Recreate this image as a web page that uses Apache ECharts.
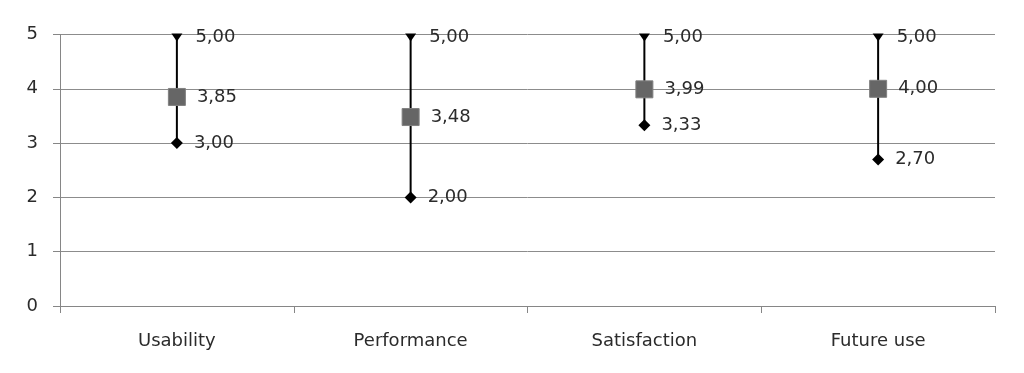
<!DOCTYPE html>
<html>
<head>
<meta charset="utf-8">
<script src="https://cdn.jsdelivr.net/npm/echarts@6/dist/echarts.min.js"></script>
<style>
html,body{margin:0;padding:0;background:#fff;}
#c{width:1024px;height:373px;}
</style>
</head>
<body>
<div id="c"></div>
<script>
var categories = ['Usability', 'Performance', 'Satisfaction', 'Future use'];
var highValues = [5.00, 5.00, 5.00, 5.00];
var lowValues = [3.00, 2.00, 3.33, 2.70];
var meanValues = [3.85, 3.48, 3.99, 4.00];
var yTicks = [0, 1, 2, 3, 4, 5];

function fmt(v){ return v.toFixed(2).replace('.', ','); }

var chart = echarts.init(document.getElementById('c'), null, {renderer:'canvas'});
var FONT = '"DejaVu Sans", sans-serif';
var TXT = '#2b2b2b';
function lbl(dist){
  return {show:true, position:'right', distance:dist, color:TXT, fontSize:18, fontFamily:FONT,
    opacity:1,
    formatter:function(p){ return fmt(p.value[1]); }};
}

chart.setOption({
  animation:false,
  backgroundColor:'#fff',
  grid:{left:60, right:29, top:34.5, bottom:67},
  xAxis:{
    type:'category', data:categories,
    axisLine:{lineStyle:{color:'#868686', width:1}},
    axisTick:{show:true, length:7, lineStyle:{color:'#868686'}},
    axisLabel:{color:TXT, fontSize:18, fontFamily:FONT, margin:26},
    splitLine:{show:false}
  },
  yAxis:{
    type:'value', min:yTicks[0], max:yTicks[yTicks.length-1], interval:1,
    axisLine:{show:true, lineStyle:{color:'#868686', width:1}},
    axisTick:{show:true, length:7, lineStyle:{color:'#868686'}},
    axisLabel:{color:TXT, fontSize:18, fontFamily:FONT, margin:22},
    splitLine:{show:true, lineStyle:{color:'#8c8c8c', width:1}}
  },
  series:[
    {
      type:'custom',
      data:categories.map(function(c,i){ return [i, lowValues[i], highValues[i]]; }),
      renderItem:function(params, api){
        var p1 = api.coord([api.value(0), api.value(1)]);
        var p2 = api.coord([api.value(0), api.value(2)]);
        return {type:'line', shape:{x1:p1[0], y1:p1[1], x2:p2[0], y2:p2[1]},
          style:{stroke:'#000', lineWidth:2}};
      },
      z:2
    },
    {
      type:'scatter', name:'High',
      data:categories.map(function(c,i){ return [i, highValues[i]]; }),
      symbol:'triangle', symbolRotate:180, symbolSize:[11,8], symbolOffset:[0,3],
      itemStyle:{color:'#000', opacity:1},
      label:lbl(13), z:3
    },
    {
      type:'scatter', name:'Low',
      data:categories.map(function(c,i){ return [i, lowValues[i]]; }),
      symbol:'diamond', symbolSize:[12,12],
      itemStyle:{color:'#000', opacity:1},
      label:lbl(11), z:3
    },
    {
      type:'scatter', name:'Mean',
      data:categories.map(function(c,i){ return [i, meanValues[i]]; }),
      symbol:'rect', symbolSize:[17,17],
      itemStyle:{color:'#666', borderColor:'#808080', borderWidth:1, opacity:1},
      label:lbl(11), z:4
    }
  ]
});
</script>
</body>
</html>
